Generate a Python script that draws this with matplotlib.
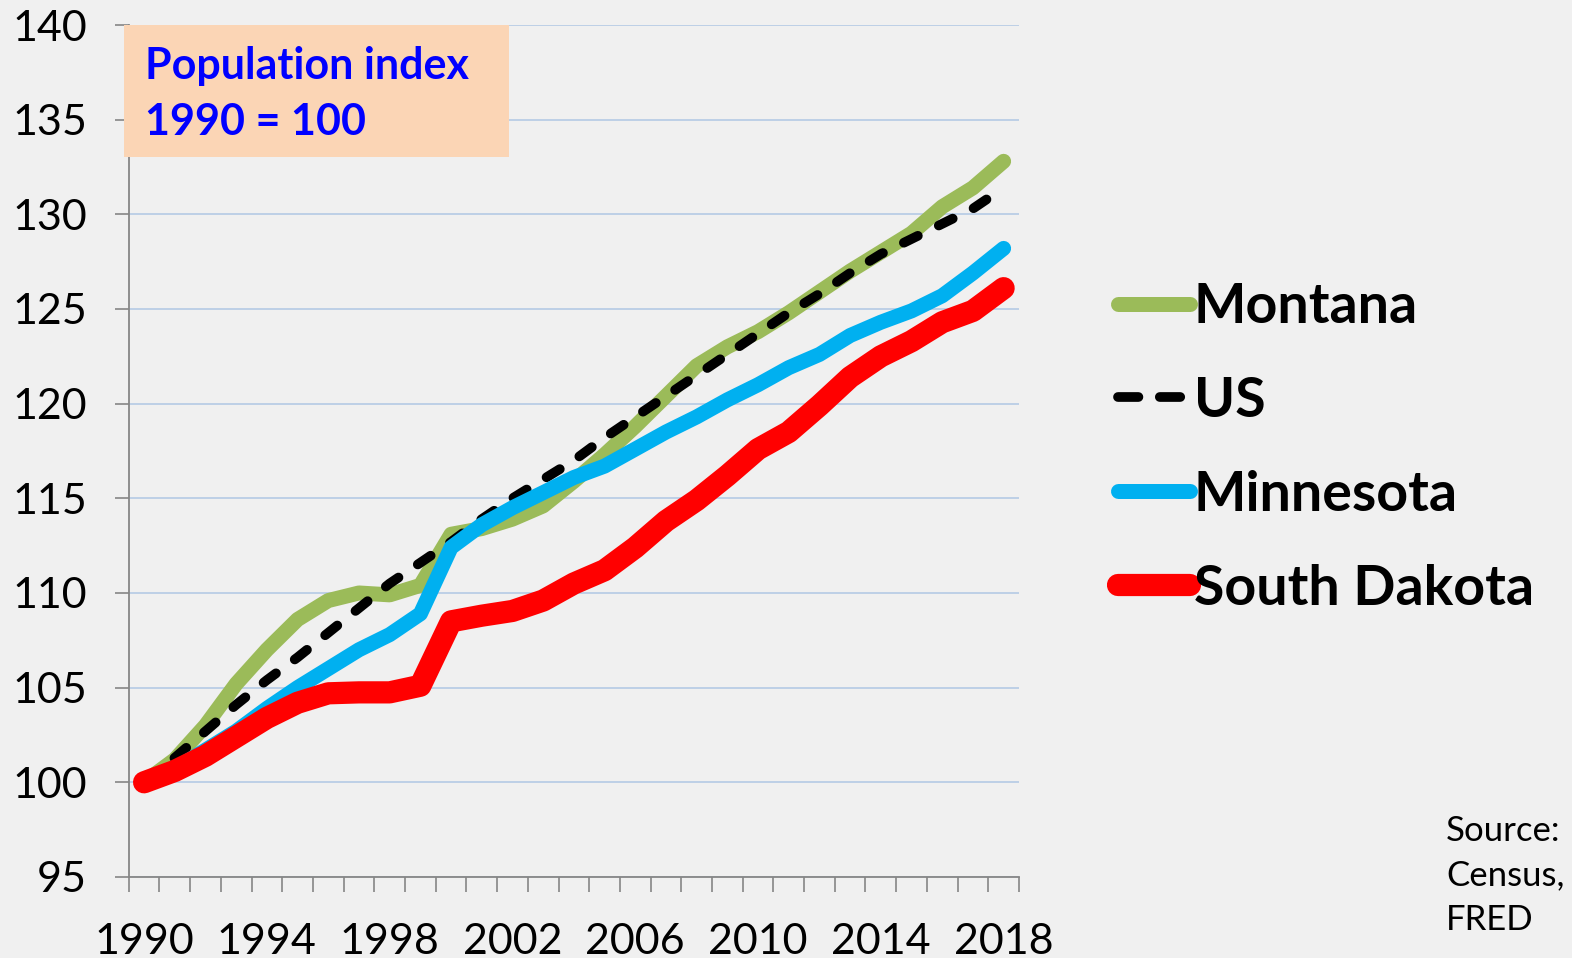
import matplotlib
matplotlib.use('Agg')
import matplotlib.pyplot as plt
from matplotlib.patches import Rectangle
import numpy as np

years = list(range(1990, 2019))

montana = [100, 101.2, 103.0, 105.2, 107.0, 108.6, 109.6, 110.0, 109.9, 110.4,
           113.1, 113.4, 113.9, 114.6, 115.9, 117.3, 118.8, 120.4, 122.0, 123.0,
           123.8, 124.8, 125.9, 127.0, 128.0, 129.0, 130.4, 131.4, 132.8]
us = [100, 101.3, 102.7, 104.1, 105.4, 106.6, 107.9, 109.2, 110.5, 111.6,
      112.7, 113.9, 115.0, 116.0, 117.0, 118.2, 119.3, 120.4, 121.5, 122.6,
      123.7, 124.8, 125.8, 126.9, 127.9, 128.7, 129.5, 130.3, 131.4]
minnesota = [100, 100.7, 101.7, 102.7, 103.9, 105.0, 106.0, 107.0, 107.8, 108.9,
             112.4, 113.6, 114.5, 115.3, 116.1, 116.7, 117.6, 118.5, 119.3, 120.2,
             121.0, 121.9, 122.6, 123.6, 124.3, 124.9, 125.7, 126.9, 128.2]
south_dakota = [100, 100.6, 101.4, 102.4, 103.4, 104.2, 104.7, 104.75, 104.75, 105.1,
                108.5, 108.8, 109.05, 109.6, 110.5, 111.2, 112.4, 113.8, 114.9, 116.2,
                117.6, 118.5, 119.9, 121.4, 122.5, 123.3, 124.3, 124.9, 126.1]

tick_years = [1990, 1994, 1998, 2002, 2006, 2010, 2014, 2018]

plt.rcParams['font.family'] = ['Lato', 'DejaVu Sans']
bg = '#F0F0F0'

fig = plt.figure(figsize=(15.72, 9.58), dpi=100, facecolor=bg)
ax = fig.add_axes([0.0819, 0.0846, 0.5663, 0.8893], facecolor=bg)

ax.plot(years, montana, color='#9BBB59', lw=10.8, solid_capstyle='round',
        solid_joinstyle='round', label='Montana', zorder=3)
ax.plot(years, us, color='black', lw=7, dashes=(1.6, 2.4), dash_capstyle='round',
        label='US', zorder=4)
ax.plot(years, minnesota, color='#00B0F0', lw=10.8, solid_capstyle='round',
        solid_joinstyle='round', label='Minnesota', zorder=5)
ax.plot(years, south_dakota, color='#FF0000', lw=16, solid_capstyle='round',
        solid_joinstyle='round', label='South Dakota', zorder=6)

ax.set_xlim(1989.5, 2018.5)
ax.set_ylim(95, 140)
ax.set_yticks(range(95, 141, 5))
ax.set_xticks(tick_years)
ax.set_xticks(np.arange(1989.5, 2019, 1), minor=True)
ax.tick_params(axis='x', which='major', length=0, labelsize=31, pad=33)
ax.tick_params(axis='x', which='minor', length=11, width=1.2, color='#868686', direction='out')
ax.tick_params(axis='y', length=10, width=1.2, color='#868686', labelsize=31, pad=20)

ax.grid(axis='y', color='#B9CDE5', lw=1.3)
ax.set_axisbelow(True)
for s in ['top', 'right']:
    ax.spines[s].set_visible(False)
for s in ['left', 'bottom']:
    ax.spines[s].set_color('#868686')
    ax.spines[s].set_linewidth(1.3)

# title box
fig.patches.append(Rectangle((124 / 1572, 1 - 157 / 958), 385 / 1572, 132 / 958,
                             transform=fig.transFigure, facecolor='#FBD5B5',
                             edgecolor='none', zorder=10))
fig.text(145 / 1572, 1 - 66 / 958, 'Population index', color='#0000FF', fontsize=31,
         fontweight='bold', va='center', ha='left', zorder=11)
fig.text(145 / 1572, 1 - 122 / 958, '1990 = 100', color='#0000FF', fontsize=31,
         fontweight='bold', va='center', ha='left', zorder=11)

leg = fig.legend(loc='upper left', bbox_to_anchor=(1118 / 1572, 1 - 282 / 958),
                 frameon=False, prop={'size': 40, 'weight': 'bold'},
                 handlelength=1.3, handletextpad=0.06, labelspacing=0.79,
                 borderpad=0, borderaxespad=0)
for h in leg.get_lines():
    h.set_solid_capstyle('round')
leg.get_lines()[1].set_dashes((2.1, 2.2))

fig.text(1446 / 1572, 1 - 815 / 958, 'Source:\nCensus,\nFRED', fontsize=25,
         va='top', ha='left', linespacing=1.49)

fig.savefig('out.png', dpi=100, facecolor=bg)
